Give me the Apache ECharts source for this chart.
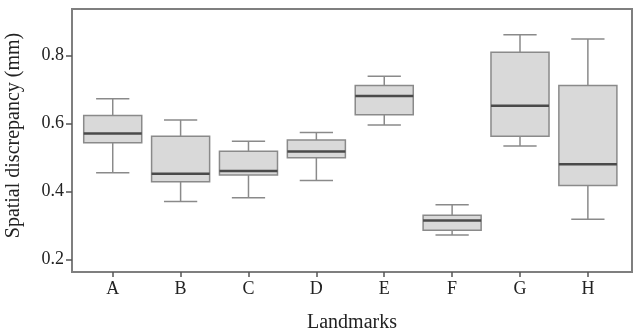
<!DOCTYPE html>
<html>
<head>
<meta charset="utf-8">
<script src="https://cdn.jsdelivr.net/npm/echarts@6/dist/echarts.min.js"></script>
<style>
  html, body { margin: 0; padding: 0; background: #fff; }
  #chart { width: 634px; height: 332px; }
</style>
</head>
<body>
<div id="chart"></div>
<script>
// landmarks on the x axis
const landmarks = ['A', 'B', 'C', 'D', 'E', 'F', 'G', 'H'];
// five-number summaries
const lowWhisker  = [0.456, 0.371, 0.382, 0.433, 0.596, 0.273, 0.534, 0.319];
const lowerQuart  = [0.544, 0.429, 0.449, 0.500, 0.626, 0.287, 0.563, 0.418];
const medians     = [0.571, 0.453, 0.461, 0.518, 0.681, 0.315, 0.653, 0.481];
const upperQuart  = [0.624, 0.563, 0.519, 0.552, 0.712, 0.331, 0.810, 0.712];
const highWhisker = [0.673, 0.611, 0.548, 0.574, 0.739, 0.362, 0.861, 0.849];
// y tick labels
const yTicks = [0.2, 0.4, 0.6, 0.8];
const xTicks = landmarks.map((l, i) => i);

const font = 'Liberation Serif';
const chart = echarts.init(document.getElementById('chart'));

const boxData = landmarks.map((l, i) => [
    i, lowWhisker[i], lowerQuart[i], medians[i], upperQuart[i], highWhisker[i]
]);

function renderBox(params, api) {
    const x = api.value(0);
    const lo = api.coord([x, api.value(1)]);
    const q1 = api.coord([x, api.value(2)]);
    const md = api.coord([x, api.value(3)]);
    const q3 = api.coord([x, api.value(4)]);
    const hi = api.coord([x, api.value(5)]);
    const unit = api.size([1, 0])[0];
    const bw = unit * 0.855;
    const cw = unit * 0.49;
    const cx = md[0];
    const gray = '#8a8a8a';
    const line = (x1, y1, x2, y2, color, w) => ({
        type: 'line',
        shape: { x1: x1, y1: y1, x2: x2, y2: y2 },
        style: { stroke: color, lineWidth: w }
    });
    return {
        type: 'group',
        children: [
            line(cx, hi[1], cx, q3[1], gray, 1.5),
            line(cx, q1[1], cx, lo[1], gray, 1.5),
            line(cx - cw / 2, hi[1], cx + cw / 2, hi[1], gray, 1.5),
            line(cx - cw / 2, lo[1], cx + cw / 2, lo[1], gray, 1.5),
            {
                type: 'rect',
                shape: { x: cx - bw / 2, y: q3[1], width: bw, height: q1[1] - q3[1] },
                style: { fill: '#d9d9d9', stroke: gray, lineWidth: 1.5 }
            },
            line(cx - bw / 2, md[1], cx + bw / 2, md[1], '#4a4a4a', 2.5)
        ]
    };
}

const option = {
    animation: false,
    grid: {
        left: 72, right: 2, top: 9, bottom: 60, show: true,
        outerBoundsMode: 'none', containLabel: false,
        borderColor: '#7f7f7f', borderWidth: 2, backgroundColor: 'transparent'
    },
    xAxis: {
        type: 'value',
        min: -0.6,
        max: 7.65,
        axisLine: { show: false, onZero: false },
        splitLine: { show: false },
        axisTick: { show: true, length: 5, customValues: xTicks,
                    lineStyle: { color: '#555', width: 1.5 } },
        axisLabel: { color: '#222', fontFamily: font, fontSize: 18, margin: 8,
                     customValues: xTicks, formatter: v => landmarks[v] },
        name: 'Landmarks',
        nameLocation: 'middle',
        nameGap: 41,
        nameTextStyle: { color: '#222', fontFamily: font, fontSize: 20 }
    },
    yAxis: {
        type: 'value',
        min: 0.164,
        max: 0.937,
        axisLine: { show: false, onZero: false },
        splitLine: { show: false },
        axisTick: { show: true, length: 6, customValues: yTicks,
                    lineStyle: { color: '#555', width: 1.5 } },
        axisLabel: { color: '#222', fontFamily: font, fontSize: 18, margin: 8,
                     customValues: yTicks, formatter: v => v.toFixed(1) },
        name: 'Spatial discrepancy (mm)',
        nameLocation: 'middle',
        nameGap: 48,
        nameTextStyle: { color: '#222', fontFamily: font, fontSize: 20, padding: [0, 0, 0, 10] }
    },
    series: [
        {
            type: 'custom',
            renderItem: renderBox,
            encode: { x: 0, y: [1, 2, 3, 4, 5] },
            data: boxData
        }
    ]
};

chart.setOption(option);
</script>
</body>
</html>
